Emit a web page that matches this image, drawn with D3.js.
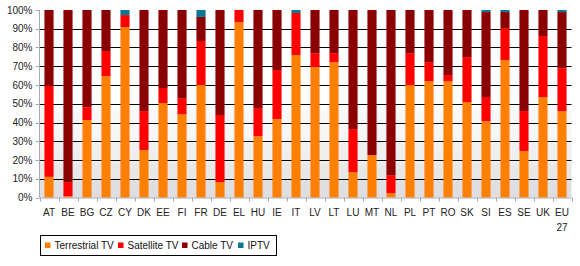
<!DOCTYPE html>
<html>
<head>
<meta charset="utf-8">
<script src="https://cdn.jsdelivr.net/npm/d3@7"></script>
<style>
  html, body { margin: 0; padding: 0; background: #fff; }
  svg { display: block; font-family: "Liberation Sans", Arial, sans-serif; }
</style>
</head>
<body>
<svg id="chart" width="580" height="266"></svg>
<script>
// --- data (shares in %) ---
const countries = ["AT", "BE", "BG", "CZ", "CY", "DK", "EE", "FI", "FR", "DE", "EL", "HU", "IE", "IT",
  "LV", "LT", "LU", "MT", "NL", "PL", "PT", "RO", "SK", "SI", "ES", "SE", "UK", "EU 27"];
const terrestrial = [11, 0.7, 41.3, 64.8, 90.9, 25.3, 50.4, 44.5, 60, 8.2, 93.6, 32.7, 41.8, 76,
  69.6, 72.2, 13.5, 22.6, 2.3, 60, 62.1, 62.1, 50.9, 40.7, 73.3, 24.7, 53.6, 46.1];
const satellite = [48.5, 7.5, 6.9, 13.3, 6.4, 20.8, 8, 8.5, 23.5, 35.8, 6.4, 15, 26.2, 22.4,
  7.4, 4.8, 23, 0, 9.6, 17, 10.1, 3.2, 24, 12.9, 17.1, 21.4, 32.5, 22.9];
const cable = [40.5, 91.8, 51.8, 21.9, 0, 53.9, 41.6, 47, 12.8, 56, 0, 52.3, 32, 0,
  23, 23, 63.5, 77.4, 88.1, 23, 27.8, 34.7, 25.1, 45.3, 8.5, 53.9, 13.9, 29.9];
const iptv = [0, 0, 0, 0, 2.7, 0, 0, 0, 3.7, 0, 0, 0, 0, 1.6,
  0, 0, 0, 0, 0, 0, 0, 0, 0, 1.1, 1.1, 0, 0, 1.1];
const seriesNames = ["Terrestrial TV", "Satellite TV", "Cable TV", "IPTV"];
const seriesColors = ["#ff8000", "#ff0000", "#8b0000", "#0b7792"];
const yTicks = [0, 10, 20, 30, 40, 50, 60, 70, 80, 90, 100];

const svg = d3.select("#chart");
const plotLeft = 39.5, plotRight = 571.5, plotTop = 10, plotBottom = 197.5;

const rows = countries.map((c, i) => ({
  country: c,
  "Terrestrial TV": terrestrial[i],
  "Satellite TV": satellite[i],
  "Cable TV": cable[i],
  "IPTV": iptv[i]
}));

const x = d3.scaleBand().domain(countries).range([plotLeft, plotRight])
  .paddingInner(0.52).paddingOuter(0.26);
const y = d3.scaleLinear().domain([0, 100]).range([plotBottom, plotTop]);
const color = d3.scaleOrdinal().domain(seriesNames).range(seriesColors);

// plot background: white top, grey stepped gradient in the lower half
const defs = svg.append("defs");
const grad = defs.append("linearGradient").attr("id", "bg").attr("x1", 0).attr("y1", 0).attr("x2", 0).attr("y2", 1);
[[0, "#f8f8f8"], [0.35, "#f6f6f6"], [0.37, "#f0f0f0"], [0.6, "#eeeeee"], [0.62, "#e8e8e9"],
 [0.79, "#e7e7e8"], [0.81, "#e0e0e3"], [1, "#dedee2"]].forEach(s => {
  grad.append("stop").attr("offset", s[0]).attr("stop-color", s[1]);
});
svg.append("rect")
  .attr("x", plotLeft).attr("y", y(46.6))
  .attr("width", plotRight - plotLeft).attr("height", plotBottom - y(46.6))
  .attr("fill", "url(#bg)");

// gridlines
svg.append("g").selectAll("line")
  .data(yTicks.filter(t => t > 0 && t < 100))
  .join("line")
  .attr("x1", plotLeft).attr("x2", plotRight)
  .attr("y1", d => Math.round(y(d)) + 0.5).attr("y2", d => Math.round(y(d)) + 0.5)
  .attr("stroke", "#000").attr("stroke-width", 1);

// stacked bars
const stack = d3.stack().keys(seriesNames);
const layers = stack(rows);

svg.append("g").selectAll("g")
  .data(layers)
  .join("g")
  .attr("fill", d => color(d.key))
  .selectAll("rect")
  .data(d => d)
  .join("rect")
  .attr("x", d => x(d.data.country))
  .attr("width", x.bandwidth())
  .attr("y", d => y(d[1]))
  .attr("height", d => Math.max(0, y(d[0]) - y(d[1])));

// y axis
const axisColor = "#a8a8b0";
svg.append("line")
  .attr("x1", plotLeft).attr("x2", plotLeft).attr("y1", plotTop).attr("y2", plotBottom)
  .attr("stroke", axisColor);
svg.append("g").selectAll("line")
  .data(yTicks)
  .join("line")
  .attr("x1", plotLeft - 4).attr("x2", plotLeft)
  .attr("y1", d => Math.round(y(d)) + 0.5).attr("y2", d => Math.round(y(d)) + 0.5)
  .attr("stroke", axisColor);
svg.append("g").selectAll("text")
  .data(yTicks)
  .join("text")
  .attr("x", 32.5)
  .attr("y", d => y(d))
  .attr("dy", "0.35em")
  .attr("text-anchor", "end")
  .attr("font-size", 10)
  .attr("fill", "#222")
  .text(d => d + "%");

// x axis
svg.append("line")
  .attr("x1", plotLeft).attr("x2", plotRight).attr("y1", plotBottom + 0.5).attr("y2", plotBottom + 0.5)
  .attr("stroke", axisColor);
const step = x.step();
svg.append("g").selectAll("line")
  .data(d3.range(countries.length + 1))
  .join("line")
  .attr("x1", i => Math.round(plotLeft + i * step) + 0.5)
  .attr("x2", i => Math.round(plotLeft + i * step) + 0.5)
  .attr("y1", plotBottom).attr("y2", plotBottom + 4)
  .attr("stroke", axisColor);

const xl = svg.append("g").selectAll("text")
  .data(countries)
  .join("text")
  .attr("x", d => x(d) + x.bandwidth() / 2)
  .attr("y", 216)
  .attr("text-anchor", "middle")
  .attr("font-size", 10)
  .attr("fill", "#222");
xl.each(function(d) {
  const parts = d.split(" ");
  const t = d3.select(this);
  parts.forEach((p, k) => {
    t.append("tspan")
      .attr("x", x(d) + x.bandwidth() / 2)
      .attr("dy", k === 0 ? 0 : 14.5)
      .text(p);
  });
});

// legend
const lg = svg.append("g");
lg.append("rect")
  .attr("x", 40.5).attr("y", 235.5).attr("width", 236).attr("height", 20)
  .attr("fill", "#fff").attr("stroke", "#000");
const legendX = [45, 118, 182, 238];
seriesNames.forEach((name, i) => {
  lg.append("rect")
    .attr("x", legendX[i]).attr("y", 242.5)
    .attr("width", 5.5).attr("height", 5.5)
    .attr("fill", color(name));
  lg.append("text")
    .attr("x", legendX[i] + 9.5).attr("y", 245.5)
    .attr("dy", "0.35em")
    .attr("font-size", 10)
    .attr("fill", "#111")
    .text(name);
});
</script>
</body>
</html>
